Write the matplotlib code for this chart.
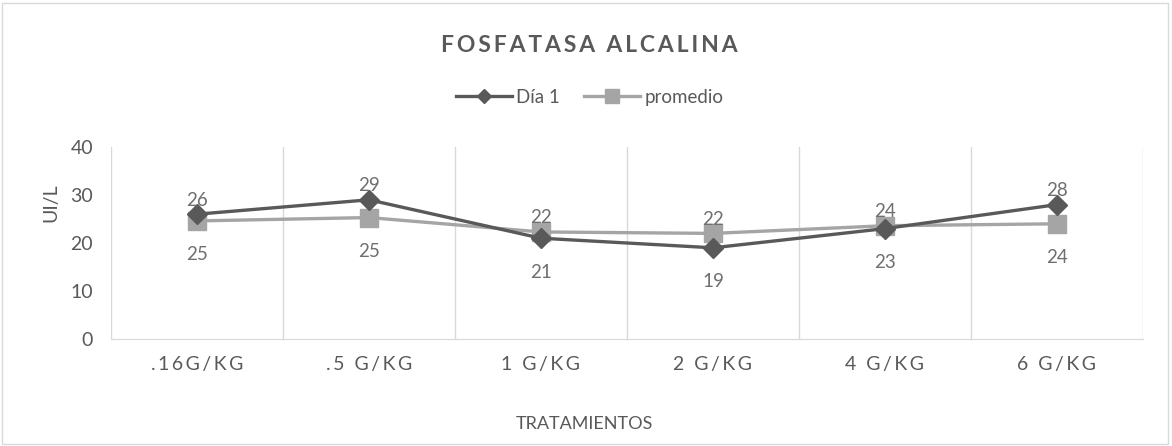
import numpy as np
import matplotlib.pyplot as plt
from matplotlib.patches import Rectangle

# datos del gráfico
categorias = [".16G/KG", ".5 G/KG", "1 G/KG", "2 G/KG", "4 G/KG", "6 G/KG"]
dia1 = [26, 29, 21, 19, 23, 28]
promedio = [24.6, 25.3, 22.3, 22.0, 23.6, 24.0]
yticks = [0, 10, 20, 30, 40]

FAM = ["Lato", "DejaVu Sans"]
GRIS_TXT = "#595959"
GRIS_ETQ = "#6f6f6f"
C_DIA = "#595959"
C_PROM = "#a5a5a5"


def espaciado(s, sep="\u2009"):
    # separa las letras para imitar el espaciado de caracteres
    return sep.join(s)


fig = plt.figure(figsize=(11.72, 4.46), dpi=100)
ax = fig.add_axes([0.0947, 0.2399, 0.8805, 0.4305])

x = np.arange(len(categorias))
ax.plot(x, dia1, color=C_DIA, lw=2.4, marker="D", ms=10, label="Día 1", zorder=3)
ax.plot(x, promedio, color=C_PROM, lw=2.4, marker="s", ms=13, label="promedio", zorder=2)

# etiquetas de valor: la serie más alta arriba, la más baja abajo
for i in range(len(categorias)):
    for serie, otra in ((dia1, promedio), (promedio, dia1)):
        arriba = serie[i] >= otra[i]
        ax.annotate(f"{serie[i]:.0f}", (x[i], serie[i]),
                    xytext=(0, 14 if arriba else -34), textcoords="offset pixels",
                    ha="center", va="center", fontsize=13.5, color=GRIS_ETQ,
                    family=FAM, zorder=4)

ax.set_xlim(-0.5, len(categorias) - 0.5)
ax.set_ylim(0, 40)
ax.set_yticks(yticks)
ax.set_xticks(x)
ax.set_xticklabels([espaciado(c) for c in categorias], family=FAM, fontsize=14, color=GRIS_TXT)
for lbl in ax.get_yticklabels():
    lbl.set_family(FAM)
    lbl.set_fontsize(14)
    lbl.set_color(GRIS_TXT)
ax.tick_params(length=0)
ax.tick_params(axis="x", pad=12)
ax.tick_params(axis="y", pad=13)

# líneas verticales entre categorías
ax.set_xticks(np.arange(-0.5, len(categorias)), minor=True)
ax.tick_params(which="minor", length=0)
ax.grid(True, which="minor", axis="x", color="#d9d9d9", lw=1)
for s in ["top", "right", "left"]:
    ax.spines[s].set_visible(False)
ax.spines["bottom"].set_color("#d9d9d9")

fig.text(0.043, 0.545, "UI/L", rotation=90, ha="center", va="center",
         family=FAM, fontsize=14, color=GRIS_TXT)
fig.text(0.499, 0.049, "TRATAMIENTOS", ha="center", va="center",
         family=FAM, fontsize=13, color=GRIS_TXT)

fig.text(0.503, 0.899, espaciado("FOSFATASA ALCALINA"), ha="center", va="center",
         family=FAM, fontsize=16.5, fontweight="bold", color=GRIS_TXT)
fig.legend(loc="center", bbox_to_anchor=(0.503, 0.782), ncol=2, frameon=False,
           prop={"family": FAM, "size": 13.5}, labelcolor=GRIS_TXT,
           handlelength=3.0, columnspacing=1.3, handletextpad=0.2,
           markerscale=0.75)

# borde del área del gráfico
fig.patches.append(Rectangle((0.002, 0.004), 0.995, 0.99, transform=fig.transFigure,
                             fill=False, edgecolor="#d9d9d9", lw=1))

fig.savefig("out.png", dpi=100)
